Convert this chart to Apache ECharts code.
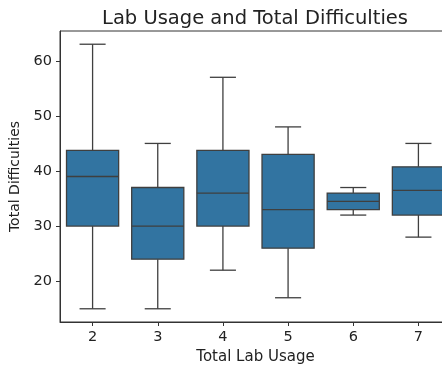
<!DOCTYPE html>
<html>
<head>
<meta charset="utf-8">
<script src="https://cdn.jsdelivr.net/npm/echarts@6/dist/echarts.min.js"></script>
<style>
  html, body { margin: 0; padding: 0; background: #fff; }
  #chart { width: 442px; height: 365px; }
</style>
</head>
<body>
<div id="chart"></div>
<script>
// Box statistics per lab-usage group
const categories = ['2', '3', '4', '5', '6', '7'];
const lowerWhisker = [15, 15, 22, 17, 32, 28];
const q1 = [30, 24, 30, 26, 33, 32];
const median = [39, 30, 36, 33, 34.5, 36.5];
const q3 = [43.75, 37, 43.75, 43, 36, 40.75];
const upperWhisker = [63, 45, 57, 48, 37, 45];
const yTicks = [20, 30, 40, 50, 60];

const boxData = categories.map((c, i) => [i, lowerWhisker[i], q1[i], median[i], q3[i], upperWhisker[i]]);

const FILL = '#3274a1';
const LINE = '#3f3f3f';
const FONT = 'DejaVu Sans';

function renderBox(params, api) {
  const i = api.value(0);
  const band = api.size([1, 0])[0];
  const boxW = band * 0.8;
  const capW = boxW * 0.5;
  const pLo = api.coord([i, api.value(1)]);
  const pQ1 = api.coord([i, api.value(2)]);
  const pMed = api.coord([i, api.value(3)]);
  const pQ3 = api.coord([i, api.value(4)]);
  const pHi = api.coord([i, api.value(5)]);
  const x = pQ1[0];
  const lineStyle = { stroke: LINE, lineWidth: 1.3, fill: null };
  return {
    type: 'group',
    children: [
      { type: 'line', shape: { x1: x, y1: pQ3[1], x2: x, y2: pHi[1] }, style: lineStyle },
      { type: 'line', shape: { x1: x, y1: pQ1[1], x2: x, y2: pLo[1] }, style: lineStyle },
      { type: 'line', shape: { x1: x - capW / 2, y1: pHi[1], x2: x + capW / 2, y2: pHi[1] }, style: lineStyle },
      { type: 'line', shape: { x1: x - capW / 2, y1: pLo[1], x2: x + capW / 2, y2: pLo[1] }, style: lineStyle },
      { type: 'rect', shape: { x: x - boxW / 2, y: pQ3[1], width: boxW, height: pQ1[1] - pQ3[1] },
        style: { fill: FILL, stroke: LINE, lineWidth: 1.3 } },
      { type: 'line', shape: { x1: x - boxW / 2, y1: pMed[1], x2: x + boxW / 2, y2: pMed[1] }, style: lineStyle }
    ]
  };
}

const chart = echarts.init(document.getElementById('chart'), null, { renderer: 'canvas' });
chart.setOption({
  animation: false,
  backgroundColor: '#fff',
  title: {
    text: 'Lab Usage and Total Difficulties',
    left: 250, top: 4, textAlign: 'center',
    textStyle: { fontFamily: FONT, fontSize: 19.5, fontWeight: 'normal', color: '#222' }
  },
  grid: {
    left: 60, width: 391, top: 31, bottom: 43,
    containLabel: false,
    outerBoundsMode: 'none',
    show: true, borderColor: '#333', borderWidth: 1, backgroundColor: 'transparent'
  },
  xAxis: {
    type: 'category',
    data: categories,
    boundaryGap: true,
    name: 'Total Lab Usage',
    nameLocation: 'middle',
    nameGap: 25,
    nameTextStyle: { fontFamily: FONT, fontSize: 15, color: '#222' },
    axisLine: { show: true, lineStyle: { color: '#333', width: 1 } },
    axisTick: { show: true, alignWithLabel: true, length: 4, lineStyle: { color: '#333' } },
    axisLabel: { fontFamily: FONT, fontSize: 14.5, color: '#222', margin: 8 },
    splitLine: { show: false }
  },
  yAxis: {
    type: 'value',
    min: 12.6,
    max: 65.4,
    name: 'Total Difficulties',
    nameLocation: 'middle',
    nameGap: 30,
    nameTextStyle: { fontFamily: FONT, fontSize: 14, color: '#222' },
    axisLine: { show: true, lineStyle: { color: '#333', width: 1 } },
    axisTick: { show: true, length: 4, customValues: yTicks, lineStyle: { color: '#333' } },
    axisLabel: { fontFamily: FONT, fontSize: 14.5, color: '#222', margin: 8, customValues: yTicks },
    splitLine: { show: false }
  },
  series: [{
    type: 'custom',
    renderItem: renderBox,
    encode: { x: 0, y: [1, 2, 3, 4, 5] },
    data: boxData
  }]
});
</script>
</body>
</html>
